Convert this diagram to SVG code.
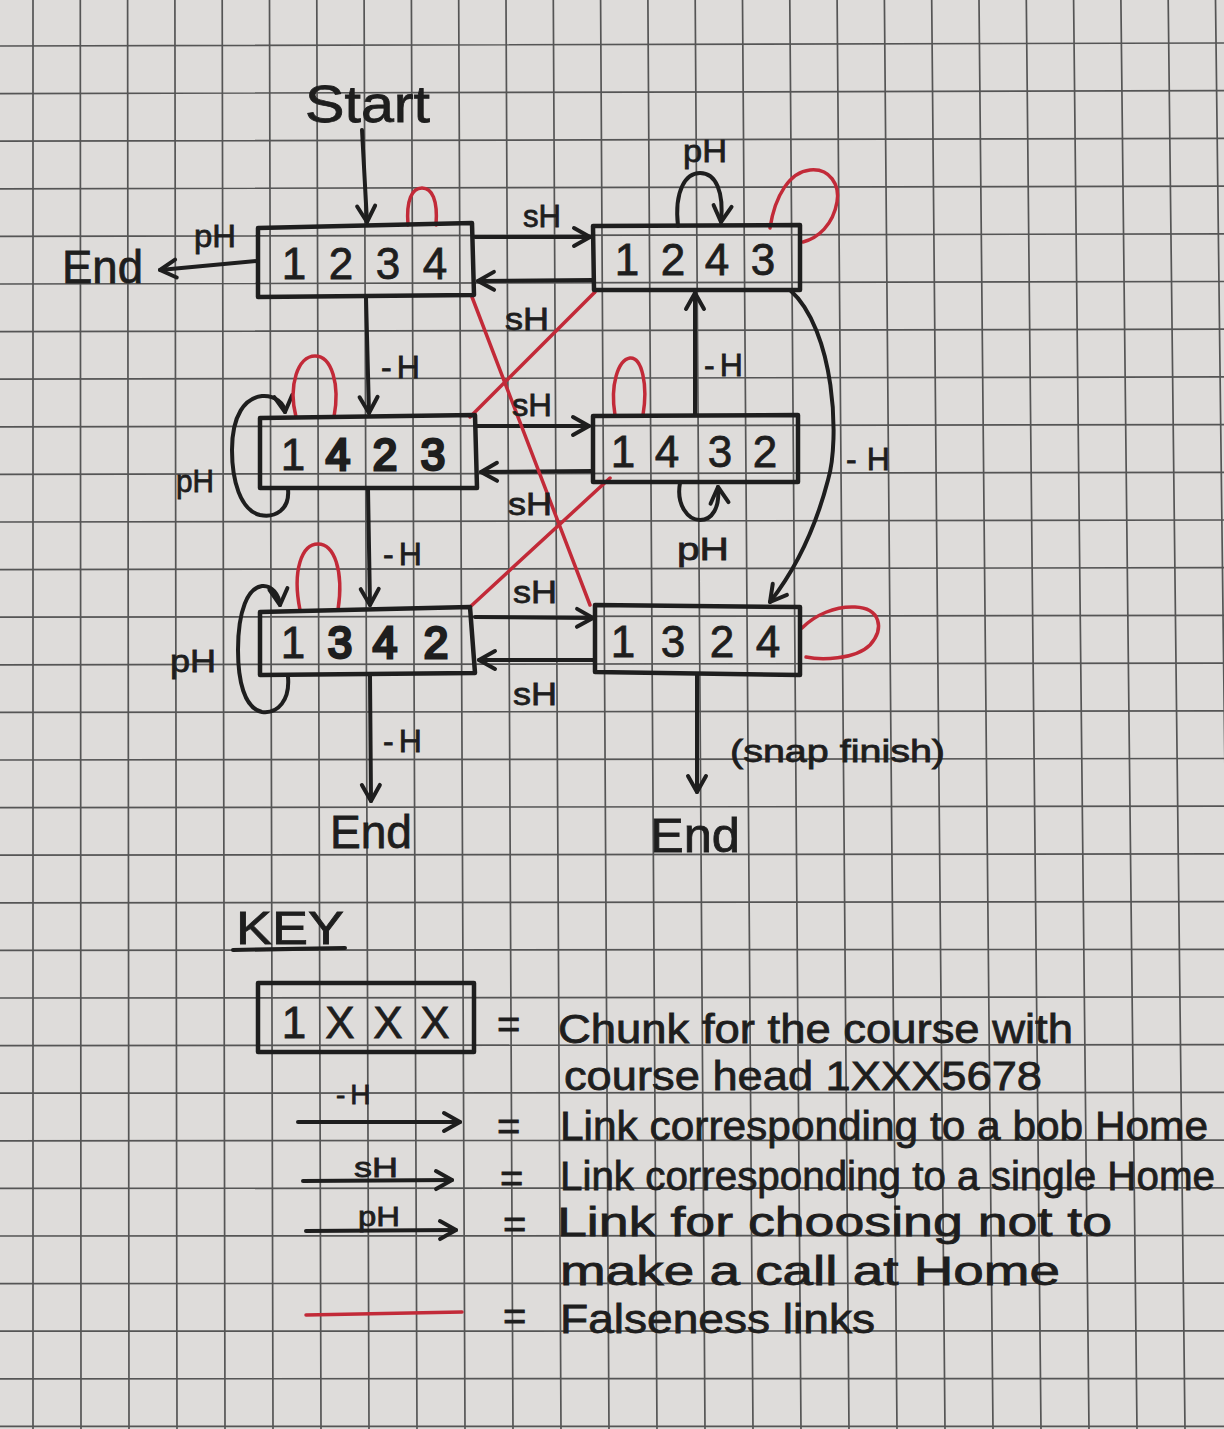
<svg xmlns="http://www.w3.org/2000/svg" width="1224" height="1429" viewBox="0 0 1224 1429">
<style>
.paper{fill:#dedcda}
.grid{stroke:#555555;stroke-width:1.7;fill:none}
.ink{stroke:#1e1e1e;stroke-width:4;fill:none;stroke-linecap:round;stroke-linejoin:round}
.box{stroke:#1e1e1e;stroke-width:4.5;fill:none;stroke-linejoin:round}
.red{stroke:#c22a38;stroke-width:3.5;fill:none;stroke-linecap:round}
.t{font-family:"Liberation Sans",Arial,sans-serif;fill:#1e1e1e;stroke:#1e1e1e;stroke-width:0.8}
.dig{font-size:44px;text-anchor:middle}
.bold{stroke-width:3}
.lbl{font-size:32px}
.mh{letter-spacing:5px}
.key{font-size:40px}
</style>
<defs>
<marker id="ah" viewBox="0 0 24 24" refX="21" refY="12" markerWidth="24" markerHeight="24" markerUnits="userSpaceOnUse" orient="auto" overflow="visible">
<path d="M5,3 L21,12 L5,21" fill="none" stroke="#1e1e1e" stroke-width="4" stroke-linecap="round" stroke-linejoin="round"/>
</marker>
</defs>
<rect class="paper" x="0" y="0" width="1224" height="1429"/>
<g id="grid">
<path class="grid" d="M33,0L33,1429M80.3,0L81,1429M127.6,0L129,1429M174.9,0L177,1429M222.2,0L225,1429M269.5,0L273,1429M316.8,0L321,1429M364.1,0L369,1429M411.4,0L417,1429M458.7,0L465,1429M506,0L513,1429M553.3,0L561,1429M600.6,0L609,1429M647.9,0L657,1429M695.2,0L705,1429M742.5,0L753,1429M789.8,0L801,1429M837.1,0L849,1429M884.4,0L897,1429M931.7,0L945,1429M979,0L993,1429M1026.3,0L1041,1429M1073.6,0L1089,1429M1120.9,0L1137,1429M1168.2,0L1185,1429M1215.5,0L1233,1429"/>
<path class="grid" d="M0,46L1224,43M0,93.6L1224,90.7M0,141.2L1224,138.4M0,188.8L1224,186.1M0,236.4L1224,233.8M0,284L1224,281.5M0,331.6L1224,329.2M0,379.2L1224,376.9M0,426.8L1224,424.6M0,474.4L1224,472.3M0,522L1224,520M0,569.6L1224,567.7M0,617.2L1224,615.4M0,664.8L1224,663.1M0,712.4L1224,710.8M0,760L1224,758.5M0,807.6L1224,806.2M0,855.2L1224,853.9M0,902.8L1224,901.6M0,950.4L1224,949.3M0,998L1224,997M0,1045.6L1224,1044.7M0,1093.2L1224,1092.4M0,1140.8L1224,1140.1M0,1188.4L1224,1187.8M0,1236L1224,1235.5M0,1283.6L1224,1283.2M0,1331.2L1224,1330.9M0,1378.8L1224,1378.6M0,1426.4L1224,1426.3"/>
</g>

<g id="connectors">
<path class="ink" d="M362,130 L367,222" marker-end="url(#ah)"/>
<path class="ink" d="M257,261 L160,270" marker-end="url(#ah)"/>
<path class="ink" d="M475,237 L590,237" marker-end="url(#ah)"/>
<path class="ink" d="M593,280 L478,281" marker-end="url(#ah)"/>
<path class="ink" d="M678,226 C674,190 686,173 700,173 C716,173 724,192 721,222" marker-end="url(#ah)"/>
<path class="ink" d="M366,298 L369,413" marker-end="url(#ah)"/>
<path class="ink" d="M368,489 L370,605" marker-end="url(#ah)"/>
<path class="ink" d="M370,676 L371,801" marker-end="url(#ah)"/>
<path class="ink" d="M288,489 C290,510 275,518 260,515 C240,510 232,480 232,450 C232,415 245,398 262,396 C275,395 284,403 285,412" marker-end="url(#ah)"/>
<path class="ink" d="M288,677 C290,700 278,714 262,712 C244,708 238,680 238,650 C238,610 248,588 262,586 C272,585 279,595 280,605" marker-end="url(#ah)"/>
<path class="ink" d="M477,426 L589,426" marker-end="url(#ah)"/>
<path class="ink" d="M593,471 L481,472" marker-end="url(#ah)"/>
<path class="ink" d="M695,415 L695,293" marker-end="url(#ah)"/>
<path class="ink" d="M680,483 C676,505 688,520 700,520 C712,520 720,508 718,487" marker-end="url(#ah)"/>
<path class="ink" d="M790,290 C835,330 840,440 828,480 C815,530 795,570 770,602" marker-end="url(#ah)"/>
<path class="ink" d="M475,617 L593,618" marker-end="url(#ah)"/>
<path class="ink" d="M595,660 L479,660" marker-end="url(#ah)"/>
<path class="ink" d="M697,674 L697,792" marker-end="url(#ah)"/>
<path class="red" d="M408,225 C406,200 412,188 422,188 C432,188 438,200 436,225"/>
<path class="red" d="M770,228 C775,195 790,172 810,170 C830,168 840,185 837,202 C833,225 818,238 803,242"/>
<path class="red" d="M296,417 C288,385 298,356 315,356 C332,356 340,385 334,417"/>
<path class="red" d="M615,415 C610,385 618,360 630,358 C642,357 648,385 643,415"/>
<path class="red" d="M300,610 C292,570 302,544 318,544 C334,544 344,570 338,610"/>
<path class="red" d="M802,628 C815,615 835,606 855,607 C880,608 885,628 870,645 C855,660 820,660 806,657"/>
<path class="red" d="M472,297 L590,605"/>
<path class="red" d="M595,292 L470,417"/>
<path class="red" d="M610,478 L470,607"/>
<text class="t lbl" x="194" y="247" font-size="28" textLength="42" lengthAdjust="spacingAndGlyphs">pH</text>
<text class="t lbl" x="523" y="227" textLength="38" lengthAdjust="spacingAndGlyphs">sH</text>
<text class="t lbl" x="505" y="330" font-size="36" textLength="44" lengthAdjust="spacingAndGlyphs">sH</text>
<text class="t lbl" x="683" y="162" textLength="44" lengthAdjust="spacingAndGlyphs">pH</text>
<text class="t lbl mh" x="381" y="378" font-size="40">-H</text>
<text class="t lbl mh" x="704" y="376" font-size="38">-H</text>
<text class="t lbl mh" x="846" y="470" font-size="46" style="letter-spacing:10px">-H</text>
<text class="t lbl" x="512" y="416" textLength="40" lengthAdjust="spacingAndGlyphs">sH</text>
<text class="t lbl" x="508" y="515" textLength="44" lengthAdjust="spacingAndGlyphs">sH</text>
<text class="t lbl" x="176" y="492" font-size="40" textLength="38" lengthAdjust="spacingAndGlyphs">pH</text>
<text class="t lbl" x="677" y="560" font-size="34" textLength="52" lengthAdjust="spacingAndGlyphs">pH</text>
<text class="t lbl mh" x="383" y="565" font-size="36">-H</text>
<text class="t lbl" x="170" y="672" font-size="38" textLength="46" lengthAdjust="spacingAndGlyphs">pH</text>
<text class="t lbl" x="513" y="603" textLength="44" lengthAdjust="spacingAndGlyphs">sH</text>
<text class="t lbl" x="513" y="705" font-size="34" textLength="44" lengthAdjust="spacingAndGlyphs">sH</text>
<text class="t lbl mh" x="383" y="752" font-size="36">-H</text>
</g>

<g id="start"><text class="t" x="305" y="122" font-size="52" textLength="125" lengthAdjust="spacingAndGlyphs">Start</text></g>
<g id="end-left"><text class="t" x="62" y="283" font-size="46" textLength="81" lengthAdjust="spacingAndGlyphs">End</text></g>
<g id="end-bottom-left"><text class="t" x="330" y="848" font-size="46" textLength="82" lengthAdjust="spacingAndGlyphs">End</text></g>
<g id="end-bottom-right"><text class="t" x="650" y="852" font-size="48" textLength="90" lengthAdjust="spacingAndGlyphs">End</text>
<text class="t" x="730" y="762" font-size="32" textLength="215" lengthAdjust="spacingAndGlyphs">(snap finish)</text></g>

<g id="node-1234">
<polygon class="box" points="258,228 472,223 474,295 258,297"/>
<text class="t dig" x="294" y="279">1</text><text class="t dig" x="341" y="279">2</text><text class="t dig" x="388" y="279">3</text><text class="t dig" x="435" y="279">4</text>
</g>
<g id="node-1243">
<polygon class="box" points="593,226 800,225 800,290 594,290"/>
<text class="t dig" x="627" y="275">1</text><text class="t dig" x="673" y="275">2</text><text class="t dig" x="717" y="275">4</text><text class="t dig" x="763" y="275">3</text>
</g>
<g id="node-1423">
<polygon class="box" points="260,418 475,415 477,488 260,488"/>
<text class="t dig" x="293" y="470">1</text><text class="t dig bold" x="338" y="470">4</text><text class="t dig bold" x="385" y="470">2</text><text class="t dig bold" x="433" y="470">3</text>
</g>
<g id="node-1432">
<polygon class="box" points="593,416 798,415 798,482 593,482"/>
<text class="t dig" x="623" y="467">1</text><text class="t dig" x="667" y="467">4</text><text class="t dig" x="720" y="467">3</text><text class="t dig" x="765" y="467">2</text>
</g>
<g id="node-1342">
<polygon class="box" points="260,612 470,607 475,673 260,675"/>
<text class="t dig" x="293" y="658">1</text><text class="t dig bold" x="340" y="658">3</text><text class="t dig bold" x="385" y="658">4</text><text class="t dig bold" x="436" y="658">2</text>
</g>
<g id="node-1324">
<polygon class="box" points="595,605 800,607 800,675 595,672"/>
<text class="t dig" x="623" y="657">1</text><text class="t dig" x="673" y="657">3</text><text class="t dig" x="722" y="657">2</text><text class="t dig" x="768" y="657">4</text>
</g>

<g id="key">
<text class="t" x="236" y="944" font-size="46" textLength="108" lengthAdjust="spacingAndGlyphs">KEY</text>
<path class="ink" d="M233,950 L345,948"/>
<polygon class="box" points="258,983 474,983 474,1052 258,1052"/>
<text class="t dig" x="294" y="1038">1</text><text class="t dig" x="340" y="1038">X</text><text class="t dig" x="388" y="1038">X</text><text class="t dig" x="435" y="1038">X</text>
<text class="t key" x="497" y="1038">=</text>
<text class="t key" x="558" y="1043" textLength="515" lengthAdjust="spacingAndGlyphs">Chunk for the course with</text>
<text class="t key" x="564" y="1090" textLength="478" lengthAdjust="spacingAndGlyphs">course head 1XXX5678</text>
<text class="t mh" x="336" y="1104" font-size="28">-H</text>
<path class="ink" d="M298,1122 L460,1122" marker-end="url(#ah)"/>
<text class="t key" x="497" y="1140">=</text>
<text class="t key" x="560" y="1140" textLength="648" lengthAdjust="spacingAndGlyphs">Link corresponding to a bob Home</text>
<text class="t" x="354" y="1177" font-size="28" textLength="44" lengthAdjust="spacingAndGlyphs">sH</text>
<path class="ink" d="M303,1181 L452,1180" marker-end="url(#ah)"/>
<text class="t key" x="500" y="1192">=</text>
<text class="t key" x="560" y="1190" textLength="655" lengthAdjust="spacingAndGlyphs">Link corresponding to a single Home</text>
<text class="t" x="358" y="1226" font-size="28" textLength="42" lengthAdjust="spacingAndGlyphs">pH</text>
<path class="ink" d="M306,1231 L456,1230" marker-end="url(#ah)"/>
<text class="t key" x="503" y="1238">=</text>
<text class="t key" x="557" y="1236" textLength="555" lengthAdjust="spacingAndGlyphs">Link for choosing not to</text>
<text class="t key" x="560" y="1285" textLength="500" lengthAdjust="spacingAndGlyphs">make a call at Home</text>
<path class="red" d="M306,1315 L462,1312" stroke-width="4"/>
<text class="t key" x="503" y="1330">=</text>
<text class="t key" x="560" y="1333" textLength="315" lengthAdjust="spacingAndGlyphs">Falseness links</text>
</g>
</svg>
